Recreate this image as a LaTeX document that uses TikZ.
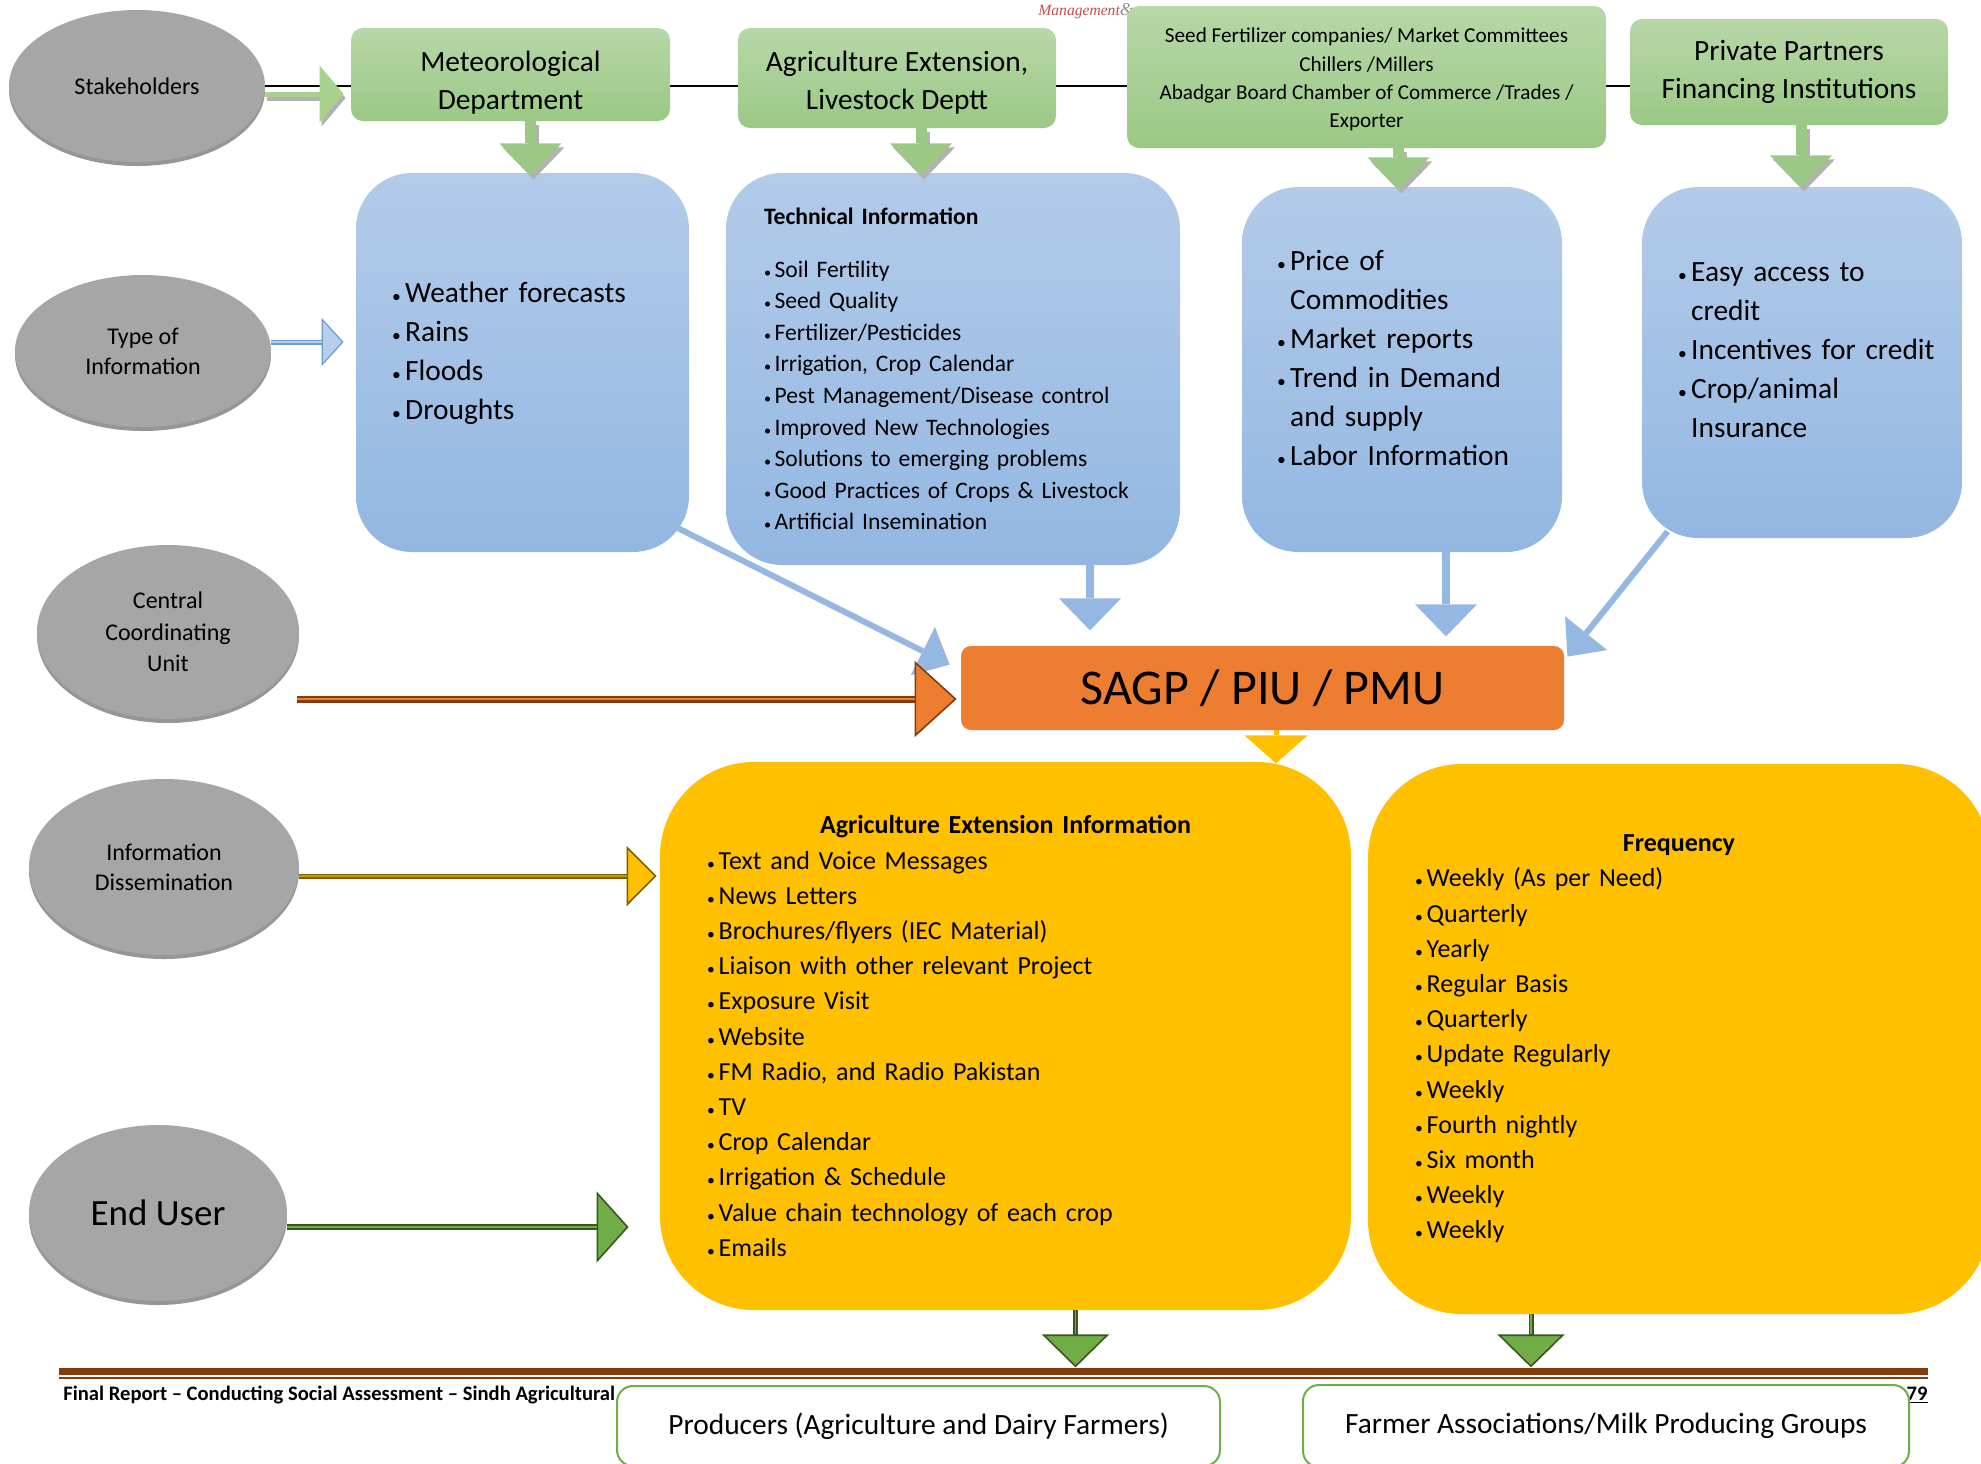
\documentclass[tikz,border=0pt]{standalone}
\usepackage{fontspec}
\setmainfont{Carlito}
\newfontfamily\hdrfont{Liberation Serif}
\usepackage{tikz}
\usetikzlibrary{shapes.geometric, arrows.meta, positioning, calc, backgrounds, shadows}

\definecolor{ovalgray}{HTML}{A6A6A6}
\definecolor{ovalrim}{HTML}{969696}
\definecolor{greentop}{HTML}{B7D7A8}
\definecolor{greenbot}{HTML}{9BC985}
\definecolor{bluetop}{HTML}{B3CBE9}
\definecolor{bluebot}{HTML}{93B7E2}
\definecolor{arrowblue}{HTML}{95B8E3}
\definecolor{blueedge}{HTML}{6C9BD2}
\definecolor{bluepale}{HTML}{B8CEEA}
\definecolor{hubfill}{HTML}{ED7D31}
\definecolor{hubedge}{HTML}{843C0C}
\definecolor{goldfill}{HTML}{FFC000}
\definecolor{goldedge}{HTML}{7F6000}
\definecolor{leaf}{HTML}{70AD47}
\definecolor{leafedge}{HTML}{385723}
\definecolor{footbrown}{HTML}{843C0C}
\definecolor{hdrred}{HTML}{C0504D}
\definecolor{sgreen}{HTML}{A9D18E}

\newcommand{\bul}{\makebox[0.45em][l]{\scalebox{0.6}{\textbullet}}}
\newcommand{\cont}{\hspace*{0.45em}}

\begin{document}
\begin{tikzpicture}[
    x=0.5pt, y=-0.5pt,
    oval/.style={ellipse, fill=ovalgray, inner sep=0pt, align=center, font=\fontsize{12}{15}\selectfont, drop shadow={shadow xshift=0pt, shadow yshift=-2pt, fill=ovalrim, opacity=1}},
    source/.style={rectangle, rounded corners=6pt, top color=greentop, bottom color=greenbot, inner sep=0pt, align=center, font=\fontsize{14.7}{19}\selectfont},
    info/.style={rectangle, rounded corners=28pt, top color=bluetop, bottom color=bluebot, inner sep=0pt, align=left, font=\fontsize{14.7}{19.5}\selectfont},
    hub/.style={rectangle, rounded corners=5pt, fill=hubfill, inner sep=0pt, font=\fontsize{25}{30}\selectfont},
    channel/.style={rectangle, rounded corners=47pt, fill=goldfill, inner sep=0pt, align=left, font=\fontsize{13}{17.6}\selectfont},
    target/.style={rectangle, rounded corners=8pt, draw=leaf, line width=1pt, fill=white, inner sep=0pt, font=\fontsize{14.7}{18}\selectfont},
    gdown/.style={draw=greenbot, line width=5.5pt, -{Triangle[width=31pt, length=16pt, line width=0pt, fill=greenbot]}},
    gshade/.style={draw=black!30, line width=5.5pt, -{Triangle[width=31pt, length=16pt, line width=0pt, fill=black!30]}, transform canvas={shift={(1.5pt,-2pt)}}},
    barrow/.style={draw=arrowblue, line width=4pt, -{Triangle[width=31pt, length=16pt, line width=0pt]}},
    bslant/.style={draw=arrowblue, line width=3pt, -{Triangle[width=27pt, length=15pt, line width=0pt]}},
    stakearrow/.style={draw=sgreen, line width=2.5pt, -{Triangle[width=28.5pt, length=12pt, line width=0pt, fill=sgreen]}},
    stakeshade/.style={draw=black!30, line width=2.5pt, -{Triangle[width=28.5pt, length=12pt, line width=0pt, fill=black!30]}, transform canvas={shift={(1pt,-2pt)}}},
    infoarrow/.style={draw=blueedge, line width=2.5pt, -{Triangle[width=24pt, length=11pt, line width=0.6pt, fill=bluepale]}, postaction={draw=bluepale, line width=1pt, -, shorten >=11pt}},
    ccuarrow/.style={draw=hubedge, line width=3.5pt, -{Triangle[width=38pt, length=21pt, line width=0.8pt, fill=hubfill]}, postaction={draw=hubfill, line width=1.2pt, -, shorten >=21pt}},
    disarrow/.style={draw=goldedge, line width=2.5pt, -{Triangle[width=30pt, length=15pt, line width=0.8pt, fill=goldfill]}, postaction={draw=goldfill!60!goldedge, line width=0.8pt, -, shorten >=15pt}},
    userarrow/.style={draw=leafedge, line width=3pt, -{Triangle[width=35.5pt, length=16pt, line width=0.8pt, fill=leaf]}, postaction={draw=leaf, line width=1pt, -, shorten >=16pt}},
    leafdown/.style={draw=leafedge, line width=2.5pt, -{Triangle[width=33.5pt, length=16.5pt, line width=0.8pt, fill=leaf]}, postaction={draw=leaf, line width=0.9pt, -, shorten >=16.5pt}},
    goldarrow/.style={draw=goldfill, line width=2.5pt, -{Triangle[width=31.5pt, length=14pt, line width=0pt]}}
  ]
    \useasboundingbox (0,0) rectangle (1981,1463);
    \clip (0,0) rectangle (1981,1463);

    \node[anchor=base west, inner sep=0pt] (hdr) at (1038,15) {\hdrfont\itshape\fontsize{7.8}{8}\selectfont\textcolor{hdrred}{Management}\textcolor{black!45}{\fontsize{9}{9}\selectfont\&}};

    % row labels
    \node[oval, minimum width=128pt, minimum height=76pt] (stake) at (137,86) {Stakeholders};
    \node[oval, minimum width=128pt, minimum height=76pt] (typeinfo) at (143,351) {Type of\\Information};
    \node[oval, minimum width=131pt, minimum height=87pt, font=\fontsize{12}{15.8}\selectfont] (ccu) at (168,632) {Central\\Coordinating\\Unit};
    \node[oval, minimum width=135pt, minimum height=88pt] (dissem) at (164,867) {Information\\Dissemination};
    \node[oval, minimum width=129pt, minimum height=88pt, font=\fontsize{18.5}{22}\selectfont] (enduser) at (158,1213) {End User};

    % stakeholders
    \node[source, minimum width=159.5pt, minimum height=46.5pt] (met) at (510.5,74.5) {\rule{0pt}{18pt}Meteorological\\Department};
    \node[source, minimum width=159pt, minimum height=50pt] (agri) at (897,78) {\rule{0pt}{15pt}Agriculture Extension,\\Livestock Deptt};
    \node[source, minimum width=239.5pt, minimum height=71pt, font=\fontsize{10.6}{14.2}\selectfont] (seed) at (1366.5,77) {\rule{0pt}{10pt}Seed Fertilizer companies/ Market Committees\\Chillers /Millers\\Abadgar Board Chamber of Commerce /Trades /\\Exporter};
    \node[source, minimum width=159pt, minimum height=53pt] (priv) at (1789,72) {Private Partners\\Financing Institutions};

    \begin{scope}[on background layer]
      \draw[line width=1pt, black] (stake.east) -- (stake.east -| priv.west);
    \end{scope}

    % type of information
    \node[info, minimum width=166.5pt, minimum height=189.5pt, text width=130.5pt] (weather) at (522.5,362.5) {\bul Weather forecasts\\\bul Rains\\\bul Floods\\\bul Droughts\\[-7.5pt]\mbox{}};
    \node[info, minimum width=227pt, minimum height=196pt, text width=189pt, font=\fontsize{11.8}{15.8}\selectfont] (tech) at (953,369) {\textbf{Technical Information}\\[10.5pt]\bul Soil Fertility\\\bul Seed Quality\\\bul Fertilizer/Pesticides\\\bul Irrigation, Crop Calendar\\\bul\mbox{Pest Management/Disease control}\\\bul Improved New Technologies\\\bul\mbox{Solutions to emerging problems}\\\bul\mbox{Good Practices of Crops \& Livestock}\\\bul Artificial Insemination};
    \node[info, minimum width=160pt, minimum height=182.5pt, text width=125pt] (price) at (1402,369.5) {\bul Price of\\\cont Commodities\\\bul Market reports\\\bul Trend in Demand\\\cont and supply\\\bul\mbox{Labor Information}\\[-7.5pt]\mbox{}};
    \node[info, minimum width=160pt, minimum height=175.5pt, text width=124pt] (credit) at (1802,362.5) {\bul Easy access to\\\cont credit\\\bul\mbox{Incentives for credit}\\\bul Crop/animal\\\cont Insurance\\[-7.5pt]\mbox{}};

    % coordinating unit
    \node[hub, minimum width=301.5pt, minimum height=42pt] (sagp) at (1262.5,688) {SAGP / PIU / PMU};

    % dissemination
    \node[channel, minimum width=345.5pt, minimum height=274pt, text width=298.5pt] (agriext) at (1005.5,1036) {\makebox[\hsize][c]{\textbf{Agriculture Extension Information}}\\\bul Text and Voice Messages\\\bul News Letters\\\bul Brochures/flyers (IEC Material)\\\bul Liaison with other relevant Project\\\bul Exposure Visit\\\bul Website\\\bul FM Radio, and Radio Pakistan\\\bul TV\\\bul Crop Calendar\\\bul Irrigation \& Schedule\\\bul Value chain technology of each crop\\\bul Emails};
    \node[channel, minimum width=311pt, minimum height=275pt, text width=264pt] (freq) at (1679,1039) {\makebox[\hsize][c]{\textbf{Frequency}}\\\bul Weekly (As per Need)\\\bul Quarterly\\\bul Yearly\\\bul Regular Basis\\\bul Quarterly\\\bul Update Regularly\\\bul Weekly\\\bul Fourth nightly\\\bul Six month\\\bul Weekly\\\bul Weekly};

    % footer
    \draw[footbrown, line width=3.5pt] (59,1371.5) -- (1928,1371.5);
    \draw[footbrown, line width=0.8pt] (59,1378) -- (1928,1378);
    \node[anchor=base west, inner sep=0pt, font=\bfseries\fontsize{10.3}{12}\selectfont] (ftext) at (63,1400) {Final Report – Conducting Social Assessment – Sindh Agricultural};
    \node[anchor=base east, inner sep=0pt, font=\bfseries\fontsize{10.3}{12}\selectfont] (fpage) at (1928,1400) {\underline{79}};

    % end users
    \node[target, minimum width=301.5pt, minimum height=40pt] (producers) at (918.5,1426) {Producers (Agriculture and Dairy Farmers)};
    \node[target, minimum width=303pt, minimum height=41pt] (farmers) at (1606,1426) {Farmer Associations/Milk Producing Groups};

    % arrows
    \draw[stakeshade] ($(stake.east)+(0,8)$) -- ($(stake.east -| met.west)+(-7,8)$);
    \draw[stakearrow] ($(stake.east)+(0,8)$) -- ($(stake.east -| met.west)+(-7,8)$);

    \draw[gshade] ($(met.south)+(20,0)$) -- ($(met.south)+(20,54)$);
    \draw[gdown] ($(met.south)+(20,0)$) -- ($(met.south)+(20,54)$);
    \draw[gshade] ($(agri.south)+(24,0)$) -- ($(agri.south)+(24,47)$);
    \draw[gdown] ($(agri.south)+(24,0)$) -- ($(agri.south)+(24,47)$);
    \draw[gshade] ($(seed.south)+(32,0)$) -- ($(seed.south)+(32,41)$);
    \draw[gdown] ($(seed.south)+(32,0)$) -- ($(seed.south)+(32,41)$);
    \draw[gshade] ($(priv.south)+(12,0)$) -- ($(priv.south)+(12,62)$);
    \draw[gdown] ($(priv.south)+(12,0)$) -- ($(priv.south)+(12,62)$);

    \draw[infoarrow] ($(typeinfo.east)+(0,-9)$) -- ($(typeinfo.east -| weather.west)+(-12,-9)$);

    \draw[bslant] ($(weather.south east)+(-11,-24)$) -- ($(sagp.north west)+(-11,19)$);
    \draw[barrow] ($(tech.south)+(137,0)$) -- ($(tech.south)+(137,65)$);
    \draw[barrow] ($(price.south)+(44,0)$) -- ($(price.south)+(44,84)$);
    \draw[bslant] ($(credit.south west)+(26,-7)$) -- ($(sagp.north east)+(3,11)$);

    \draw[ccuarrow] ($(ccu.east |- sagp.west)+(-2,11)$) -- ($(sagp.west)+(-4,11)$);
    \draw[goldarrow] ($(sagp.south)+(13.5,0)$) -- ($(sagp.south)+(13.5,33)$);

    \draw[disarrow] ($(dissem.east)+(0,9)$) -- ($(dissem.east -| agriext.west)+(-3,9)$);
    \draw[userarrow] ($(enduser.east)+(0,14)$) -- ($(enduser.east -| agriext.west)+(-31,14)$);

    \draw[leafdown] ($(agriext.south)+(70,0)$) -- ($(agriext.south)+(70,57)$);
    \draw[leafdown] ($(freq.south)+(-148,0)$) -- ($(freq.south)+(-148,53)$);

  \end{tikzpicture}
\end{document}
